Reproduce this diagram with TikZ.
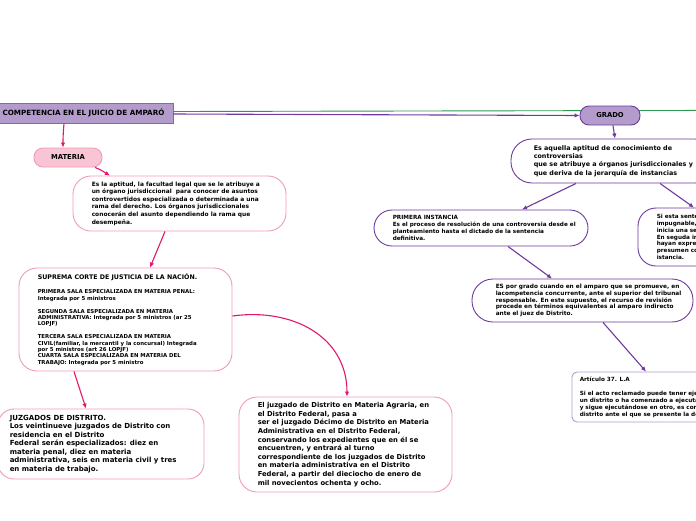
\documentclass[tikz,border=0pt]{standalone}
\usepackage{fontspec}
\setmainfont{DejaVu Sans}
\usetikzlibrary{arrows.meta}
\definecolor{pinkb}{HTML}{F29AB9}
\definecolor{pinkf}{HTML}{F9C4D3}
\definecolor{crim}{HTML}{E2176A}
\definecolor{purp}{HTML}{6E3A9E}
\definecolor{lav}{HTML}{B39BCB}
\definecolor{lavb}{HTML}{8867A8}
\definecolor{grn}{HTML}{2E9A50}
\tikzset{
  pbox/.style={draw=pinkb, line width=0.9pt, fill=white, rounded corners=18pt, inner sep=0pt},
  vbox/.style={draw=purp, line width=0.9pt, fill=white, rounded corners=18pt, inner sep=0pt},
  label box/.style={draw=#1, line width=0.9pt, rounded corners=9pt, inner sep=0pt, font=\fontsize{6.8}{8}\selectfont\bfseries},
  txt/.style={inner sep=0pt, align=left, anchor=west},
  parr/.style={draw=crim, line width=1.1pt, -{Latex[length=5pt,width=4.5pt]}},
  varr/.style={draw=purp, line width=1.1pt, -{Latex[length=5pt,width=4.5pt]}},
}
\begin{document}
\begin{tikzpicture}[x=1pt,y=-1pt]
\useasboundingbox (0,0) rectangle (696,520);
\clip (0,0) rectangle (696,520);
% header and labels
\node[draw=lavb, fill=lav, line width=0.9pt, inner sep=0pt, minimum width=174pt, minimum height=20pt] (head) at (86,113) {};
\node[inner sep=0pt, font=\fontsize{7.2}{8}\selectfont\bfseries] (headt) at (83.5,113) {COMPETENCIA EN EL JUICIO DE AMPARÓ};
\coordinate (far) at (900,110);
\draw[grn, line width=0.9pt] ([yshift=1.5pt]head.east) -- (far);
\node[label box=lavb, fill=lav, draw=purp, minimum width=60pt, minimum height=19pt] (grado) at (610,115.5) {GRADO};
\node[label box=pinkb, fill=pinkf, minimum width=68pt, minimum height=19pt] (mat) at (68,157.5) {MATERIA};
\draw[varr] ([yshift=-1pt]head.east) -- (grado.west);

% pink boxes
\node[pbox, minimum width=213pt, minimum height=55pt] (apt) at (179.5,203.5) {};
\node[txt, font=\fontsize{5.9}{7.6}\selectfont\bfseries] (aptt) at ([xshift=19pt]apt.west) {Es la aptitud, la facultad legal que se le atribuye a\\un órgano jurisdiccional\ \ para conocer de asuntos\\controvertidos especializada o determinada a una\\rama del derecho. Los órganos jurisdiccionales\\conocerán del asunto dependiendo la rama que\\desempeña.};

\node[pbox, minimum width=213pt, minimum height=103pt] (sup) at (125.5,319.5) {};
\node[txt, font=\fontsize{5.4}{6.4}\selectfont\bfseries] (supt) at ([xshift=19pt]sup.west) {{\fontsize{6.3}{7}\selectfont SUPREMA CORTE DE JUSTICIA DE LA NACIÓN.}\\[8pt]PRIMERA SALA ESPECIALIZADA EN MATERIA PENAL:\\Integrada por 5 ministros\\[6.4pt]SEGUNDA SALA ESPECIALIZADA EN MATERIA\\ADMINISTRATIVA: Integrada por 5 ministros (ar 25\\LOPJF)\\[6.4pt]TERCERA SALA ESPECIALIZADA EN MATERIA\\CIVIL(familiar, la mercantil y la concursal) Integrada\\por 5 ministros (art 26 LOPJF)\\CUARTA SALA ESPECIALIZADA EN MATERIA DEL\\TRABAJO: Integrada por 5 ministro};

\node[pbox, rounded corners=16pt, minimum width=206pt, minimum height=70pt] (juz) at (101,444) {};
\node[txt, font=\fontsize{7}{8.5}\selectfont\bfseries] (juzt) at ([xshift=12pt]juz.west) {JUZGADOS DE DISTRITO.\\Los veintinueve juzgados de Distrito con\\residencia en el Distrito\\Federal serán especializados: diez en\\materia penal, diez en materia\\administrativa, seis en materia civil y tres\\en materia de trabajo.};

\node[pbox, minimum width=213pt, minimum height=95pt] (agr) at (345.5,444.5) {};
\node[txt, font=\fontsize{6.8}{8.6}\selectfont\bfseries] (agrt) at ([xshift=19pt]agr.west) {El juzgado de Distrito en Materia Agraria, en\\el Distrito Federal, pasa a\\ser el juzgado Décimo de Distrito en Materia\\Administrativa en el Distrito Federal,\\conservando los expedientes que en él se\\encuentren, y entrará al turno\\correspondiente de los juzgados de Distrito\\en materia administrativa en el Distrito\\Federal, a partir del dieciocho de enero de\\mil novecientos ochenta y ocho.};

% purple boxes
\node[vbox, rounded corners=21pt, minimum width=205pt, minimum height=44pt] (def) at (613.5,161) {};
\node[txt, font=\fontsize{6.4}{8.4}\selectfont\bfseries] (deft) at ([xshift=23pt]def.west) {Es aquella aptitud de conocimiento de\\controversias\\que se atribuye a órganos jurisdiccionales y\\que deriva de la jerarquía de instancias};

\node[vbox, minimum width=214pt, minimum height=36pt] (prim) at (481,228) {};
\node[txt, font=\fontsize{5.7}{6.8}\selectfont\bfseries] (primt) at ([xshift=19pt]prim.west) {PRIMERA INSTANCIA\\Es el proceso de resolución de una controversia desde el\\planteamiento hasta el dictado de la sentencia\\definitiva.};

\node[vbox, minimum width=102pt, minimum height=58pt] (rn) at (689,237) {};
\node[txt, font=\fontsize{5.7}{6.8}\selectfont\bfseries] (rnt) at ([xshift=19pt]rn.west) {Si esta sentencia es\\impugnable, se\\inicia una segunda\\En seguda instancia\\hayan expresado\\presumen consentidos\\istancia.};

\node[vbox, rounded corners=21pt, minimum width=221pt, minimum height=43pt] (es) at (582.5,300.5) {};
\node[txt, font=\fontsize{5.8}{6.8}\selectfont\bfseries] (est) at ([xshift=24pt]es.west) {ES por grado cuando en el amparo que se promueve, en\\lacompetencia concurrente, ante el superior del tribunal\\responsable. En este supuesto, el recurso de revisión\\procede en términos equivalentes al amparo indirecto\\ante el juez de Distrito.};

\node[draw=lav, line width=0.9pt, fill=white, rounded corners=5pt, inner sep=0pt, minimum width=168pt, minimum height=50pt] (art) at (656,397) {};
\node[txt, font=\fontsize{5.7}{7}\selectfont\bfseries] (artt) at ([xshift=8pt]art.west) {Artículo 37. L.A\\[7pt]Si el acto reclamado puede tener ejecución en más de\\un distrito o ha comenzado a ejecutarse en uno de ellos\\y sigue ejecutándose en otro, es competente el juez de\\distrito ante el que se presente la demanda.};

% pink connectors
\draw[parr] ([xshift=-22pt]head.south) to[out=-95,in=90] ([xshift=-5pt]mat.north);
\draw[parr] ([xshift=27pt]mat.south) to[out=-20,in=150] ([xshift=-69.5pt]apt.north);
\draw[parr] ([xshift=-14.5pt]apt.south) -- ([xshift=24.5pt]sup.north);
\draw[parr] ([xshift=-51.5pt]sup.south) -- ([xshift=-15pt]juz.north);
\draw[parr] ([yshift=3.5pt]sup.east) to[out=8,in=90,looseness=1.1] ([xshift=1.5pt]agr.north);

% purple connectors
\draw[varr] ([xshift=3pt]grado.south) -- ([xshift=1.5pt]def.north);
\draw[varr] ([xshift=-37.5pt]def.south) -- ([xshift=41pt]prim.north);
\draw[varr] ([xshift=46.5pt]def.south) -- ([xshift=5pt]rn.north);
\draw[varr] ([xshift=27pt]prim.south) -- ([xshift=-30.5pt]es.north);
\draw[varr] ([xshift=20.5pt]es.south) -- ([xshift=-10pt]art.north);
\end{tikzpicture}
\end{document}
